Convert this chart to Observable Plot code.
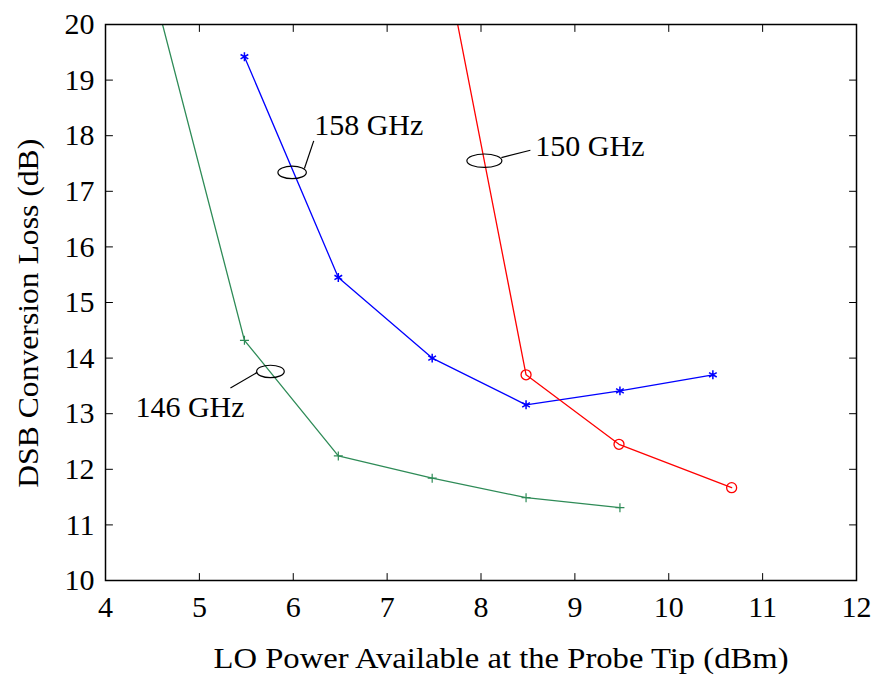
<!DOCTYPE html>
<html><head><meta charset="utf-8">
<script src="https://cdn.jsdelivr.net/npm/d3@7"></script>
<script src="https://cdn.jsdelivr.net/npm/@observablehq/plot@0.6"></script>
<style>body{margin:0;background:#fff}</style>
</head><body><div id="chart"></div>
<script>
// ---- data ----
const loPower146 = [4.48, 5.48, 6.48, 7.48, 8.48, 9.48];
const loss146    = [20.83, 14.32, 12.24, 11.84, 11.49, 11.31];
const loPower158 = [5.48, 6.48, 7.48, 8.48, 9.48, 10.47];
const loss158    = [19.42, 15.45, 14.00, 13.16, 13.41, 13.70];
const loPower150 = [7.48, 8.48, 9.47, 10.67];
const loss150    = [22.35, 13.70, 12.45, 11.67];
const xTicks = [4, 5, 6, 7, 8, 9, 10, 11, 12];
const yTicks = [10, 11, 12, 13, 14, 15, 16, 17, 18, 19, 20];
const seriesLabels = ["146 GHz", "158 GHz", "150 GHz"];
// annotation anchors (data coordinates)
const ellipseX = [5.757, 5.988, 8.036];
const ellipseY = [13.76, 17.34, 17.55];
const leaderX1 = [5.331, 6.119, 8.217];
const leaderY1 = [13.463, 17.41, 17.607];
const leaderX2 = [5.616, 6.218, 8.526];
const leaderY2 = [13.743, 17.906, 17.739];
const labelX = [4.319, 6.223, 8.579];
const labelY = [13.107, 18.19, 17.81];
const xTitle = "LO Power Available at the Probe Tip (dBm)";
const yTitle = "DSB Conversion Loss (dB)";

const s146 = loPower146.map((x, i) => ({x, y: loss146[i]}));
const s158 = loPower158.map((x, i) => ({x, y: loss158[i]}));
const s150 = loPower150.map((x, i) => ({x, y: loss150[i]}));
const annos = seriesLabels.map((label, i) => ({
  label, ex: ellipseX[i], ey: ellipseY[i],
  x1: leaderX1[i], y1: leaderY1[i], x2: leaderX2[i], y2: leaderY2[i],
  lx: labelX[i], ly: labelY[i]
}));

function ellipseSymbol(rx, ry) {
  const k = 0.5523;
  return {draw(c) {
    c.moveTo(rx, 0);
    c.bezierCurveTo(rx, k * ry, k * rx, ry, 0, ry);
    c.bezierCurveTo(-k * rx, ry, -rx, k * ry, -rx, 0);
    c.bezierCurveTo(-rx, -k * ry, -k * rx, -ry, 0, -ry);
    c.bezierCurveTo(k * rx, -ry, rx, -k * ry, rx, 0);
    c.closePath();
  }};
}
const ellipseShapes = [ellipseSymbol(13.8, 6.2), ellipseSymbol(14.2, 6.3), ellipseSymbol(17.5, 6.7)];
const tickShape = {draw(c, l) { c.moveTo(0, 0); c.lineTo(0, -l); }};

const GREEN = "#2e8b57", BLUE = "#0000ff", RED = "#ff0000";
const FONT = "'Liberation Serif', 'Times New Roman', serif";

const plot = Plot.plot({
  width: 877, height: 677,
  marginLeft: 105, marginRight: 21, marginTop: 24, marginBottom: 97,
  style: {fontFamily: FONT, fontSize: "30px", color: "black", background: "white"},
  x: {domain: [4, 12]},
  y: {domain: [10, 20]},
  marks: [
    // data lines
    Plot.line(s146, {x: "x", y: "y", stroke: GREEN, strokeWidth: 1.3, clip: true}),
    Plot.line(s158, {x: "x", y: "y", stroke: BLUE, strokeWidth: 1.3, clip: true}),
    Plot.line(s150, {x: "x", y: "y", stroke: RED, strokeWidth: 1.3, clip: true}),
    Plot.dot(s146, {x: "x", y: "y", symbol: "plus", r: 3.0, stroke: GREEN, strokeWidth: 1.2, clip: true}),
    Plot.dot(s158, {x: "x", y: "y", symbol: "asterisk", r: 4.2, stroke: BLUE, strokeWidth: 1.5, clip: true}),
    Plot.dot(s150, {x: "x", y: "y", symbol: "circle", r: 5.0, stroke: RED, fill: "none", strokeWidth: 1.3, clip: true}),
    // annotations
    ...annos.map((a, i) => Plot.dot([a], {x: "ex", y: "ey", symbol: ellipseShapes[i], stroke: "black", fill: "none", strokeWidth: 1.2})),
    Plot.link(annos, {x1: "x1", y1: "y1", x2: "x2", y2: "y2", stroke: "black", strokeWidth: 1.2}),
    Plot.text(annos, {x: "lx", y: "ly", text: "label", textAnchor: "start", fontSize: 30, fontFamily: FONT, fill: "black"}),
    // frame & inward ticks
    Plot.frame({stroke: "black", strokeWidth: 1.5}),
    Plot.vector(xTicks, {x: d => d, y: 10, length: 7, rotate: 0, anchor: "start", shape: tickShape, stroke: "black", strokeWidth: 1}),
    Plot.vector(xTicks, {x: d => d, y: 20, length: 7, rotate: 180, anchor: "start", shape: tickShape, stroke: "black", strokeWidth: 1}),
    Plot.vector(yTicks, {x: 4, y: d => d, length: 7, rotate: 90, anchor: "start", shape: tickShape, stroke: "black", strokeWidth: 1}),
    Plot.vector(yTicks, {x: 12, y: d => d, length: 7, rotate: -90, anchor: "start", shape: tickShape, stroke: "black", strokeWidth: 1}),
    // tick labels
    Plot.axisX({ticks: xTicks, tickSize: 0, tickPadding: 15, fontSize: 30, fontFamily: FONT, label: null, tickFormat: d => String(d)}),
    Plot.axisY({ticks: yTicks, tickSize: 0, tickPadding: 11, fontSize: 30, fontFamily: FONT, label: null, tickFormat: d => String(d)}),
    // axis titles
    Plot.text([xTitle], {frameAnchor: "bottom", text: d => d, textAnchor: "middle", dx: 20, dy: 77.4, lineAnchor: "middle", fontSize: 30, fontFamily: FONT, fill: "black", className: "xtitle"}),
    Plot.text([yTitle], {frameAnchor: "left", text: d => d, textAnchor: "middle", rotate: -90, dx: -77.6, dy: 10.75, lineAnchor: "middle", fontSize: 30, fontFamily: FONT, fill: "black", className: "ytitle"})
  ]
});
document.getElementById("chart").appendChild(plot);
const xt = plot.querySelector(".xtitle text");
if (xt) { xt.setAttribute("textLength", 575); xt.setAttribute("lengthAdjust", "spacingAndGlyphs"); }
const yt = plot.querySelector(".ytitle text");
if (yt) { yt.setAttribute("textLength", 349); yt.setAttribute("lengthAdjust", "spacingAndGlyphs"); }
</script>
</body></html>
